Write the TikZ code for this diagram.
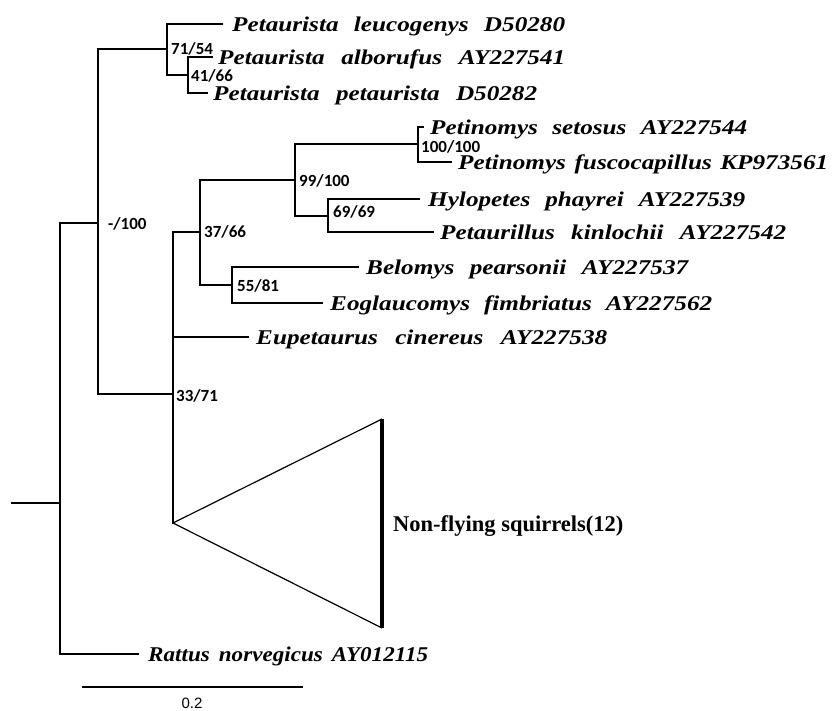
\documentclass[tikz,border=0pt]{standalone}
\usepackage{fontspec}
\setmainfont{Liberation Serif}
\newfontfamily\taxfont{Liberation Serif}[FakeStretch=1.2]
\newfontfamily\ratfont{Liberation Serif}[FakeStretch=1.1]
\newfontfamily\bsfont{Carlito}
\newfontfamily\scalefont{Liberation Sans}
\begin{document}
\begin{tikzpicture}[x=1pt,y=-1pt,
  branch/.style={line width=1.4pt,line cap=rect},
  taxon/.style={anchor=base west,inner sep=0pt,font=\fontsize{21}{21}\selectfont\taxfont\bfseries\itshape},
  boot/.style={anchor=west,inner sep=0pt,font=\fontsize{17}{17}\selectfont\bsfont\bfseries},
  clade/.style={anchor=west,inner sep=0pt,font=\fontsize{22.5}{22.5}\selectfont\bfseries}]
\useasboundingbox (0,0) rectangle (833,710);
% internal nodes
\coordinate (r0) at (12,503);
\coordinate (R) at (60,503);
\coordinate (A) at (98,223);
\coordinate (P) at (167,49);
\coordinate (Q) at (188,75);
\coordinate (B) at (173,394);
\coordinate (C) at (200,232);
\coordinate (D) at (295,180);
\coordinate (E) at (418,144);
\coordinate (F) at (328,216);
\coordinate (G) at (232,285);
% tips
\coordinate (tleu) at (222,24);
\coordinate (talb) at (212,57);
\coordinate (tpet) at (207,93);
\coordinate (tset) at (423,127);
\coordinate (tfus) at (451,162);
\coordinate (thyl) at (419,199);
\coordinate (tkin) at (433,232);
\coordinate (tbel) at (358,267);
\coordinate (tfim) at (322,303);
\coordinate (tcin) at (248,337);
\coordinate (trat) at (138,654);
\coordinate (T) at (173,523);
\coordinate (T1) at (382,419);
\coordinate (T2) at (382,628);
% tree
\draw[branch] (r0) -- (R);
\draw[branch] (R) |- (A);
\draw[branch] (R) |- (trat);
\draw[branch] (A) |- (P);
\draw[branch] (A) |- (B);
\draw[branch] (P) |- (tleu);
\draw[branch] (P) |- (Q);
\draw[branch] (Q) |- (talb);
\draw[branch] (Q) |- (tpet);
\draw[branch] (B) |- (C);
\draw[branch] (B) |- (tcin);
\draw[branch] (B) -- (T);
\draw[branch] (C) |- (D);
\draw[branch] (C) |- (G);
\draw[branch] (D) |- (E);
\draw[branch] (D) |- (F);
\draw[branch] (E) |- (tset);
\draw[branch] (E) |- (tfus);
\draw[branch] (F) |- (thyl);
\draw[branch] (F) |- (tkin);
\draw[branch] (G) |- (tbel);
\draw[branch] (G) |- (tfim);
% collapsed clade
\draw[line width=1.2pt,line join=miter] (T2) -- (T) -- (T1);
\draw[line width=4pt] (T1) -- (T2);
% taxon labels
\node[taxon] (nleu) at (232,31.5) {\makebox[333pt][s]{Petaurista leucogenys D50280}};
\node[taxon] (nalb) at (218,64.5) {\makebox[347pt][s]{Petaurista alborufus AY227541}};
\node[taxon] (npet) at (213,100.5) {\makebox[324pt][s]{Petaurista petaurista D50282}};
\node[taxon] (nset) at (430,134.5) {\makebox[317pt][s]{Petinomys setosus AY227544}};
\node[taxon] (nfus) at (458,169.5) {\makebox[370pt][s]{Petinomys fuscocapillus KP973561}};
\node[taxon] (nhyl) at (428,206.5) {\makebox[317pt][s]{Hylopetes phayrei AY227539}};
\node[taxon] (nkin) at (440,239.5) {\makebox[346pt][s]{Petaurillus kinlochii AY227542}};
\node[taxon] (nbel) at (366,274.5) {\makebox[322pt][s]{Belomys pearsonii AY227537}};
\node[taxon] (nfim) at (330,310.5) {\makebox[382pt][s]{Eoglaucomys fimbriatus AY227562}};
\node[taxon] (ncin) at (256,344.5) {\makebox[351pt][s]{Eupetaurus cinereus AY227538}};
\node[taxon,font=\fontsize{21}{21}\selectfont\ratfont\bfseries\itshape] (nrat) at (148,661) {\makebox[280pt][s]{Rattus norvegicus AY012115}};
\node[clade] (nnon) at (393,526) {Non-flying squirrels(12)};
% bootstrap values
\node[boot] (bA) at (108,224) {-/100};
\node[boot] (bP) at (171,49) {71/54};
\node[boot] (bQ) at (191,76) {41/66};
\node[boot] (bB) at (176,396) {33/71};
\node[boot] (bC) at (204,232) {37/66};
\node[boot] (bD) at (299,181) {99/100};
\node[boot] (bE) at (421,147) {100/100};
\node[boot] (bF) at (333,212) {69/69};
\node[boot] (bG) at (237,286) {55/81};
% scale bar
\coordinate (s1) at (82,687);
\coordinate (s2) at (303,687);
\draw[line width=1.4pt] (s1) -- (s2);
\node[inner sep=0pt,font=\fontsize{15}{15}\selectfont\scalefont] (slab) at (192,703) {0.2};
\end{tikzpicture}
\end{document}
